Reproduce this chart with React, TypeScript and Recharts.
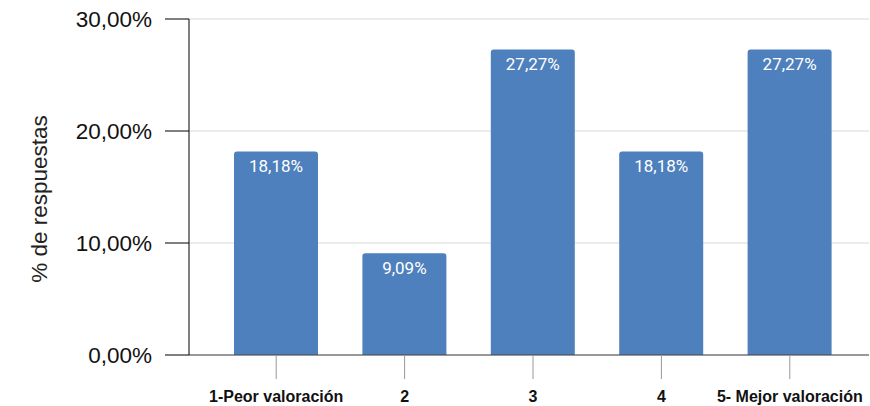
import React from 'react';
import { BarChart, Bar, XAxis, YAxis, CartesianGrid, LabelList } from 'recharts';

const categories = ['1-Peor valoración', '2', '3', '4', '5- Mejor valoración'];
const values = [18.18, 9.09, 27.27, 18.18, 27.27];
const yTicks = [0, 10, 20, 30];

const data = categories.map((c, i) => ({ name: c, value: values[i] }));

const fmt = (v: number) => v.toFixed(2).replace('.', ',') + '%';

const BarLabel = (props: any) => {
  const { x, y, width, value } = props;
  return (
    <text
      x={x + width / 2}
      y={y + 20.5}
      textAnchor="middle"
      fill="#ffffff"
      fontFamily="Roboto"
      fontSize={17}
    >
      {fmt(value)}
    </text>
  );
};

const YLabel = () => (
  <text
    x={47}
    y={199}
    transform="rotate(-90 47 199)"
    textAnchor="middle"
    fontFamily="Liberation Sans"
    fontSize={22.5}
    fill="#222"
  >
    % de respuestas
  </text>
);

export default function App() {
  return (
    <div style={{ position: 'absolute', left: 0, top: 0, width: 870, height: 406, background: '#fff' }}>
      <BarChart
        width={870}
        height={406}
        data={data}
        margin={{ top: 19, right: 1, bottom: 0, left: 0 }}
      >
        <CartesianGrid vertical={false} stroke="#d9d9d9" />
        <XAxis
          dataKey="name"
          height={51}
          padding={{ left: 23, right: 15 }}
          axisLine={{ stroke: '#444' }}
          tickLine={{ stroke: '#999' }}
          tickSize={24}
          tickMargin={12}
          interval={0}
          tick={{ fontFamily: 'Liberation Sans', fontSize: 16, fontWeight: 'bold', fill: '#111' }}
        />
        <YAxis
          width={189}
          domain={[0, 30]}
          ticks={yTicks}
          tickFormatter={fmt}
          axisLine={{ stroke: '#000' }}
          tickLine={{ stroke: '#000' }}
          tickSize={24}
          tickMargin={13}
          tick={{ fontFamily: 'Liberation Sans', fontSize: 22.5, fill: '#111' }}
          label={{ content: () => <YLabel /> }}
        />
        <Bar dataKey="value" fill="#4e80bd" barSize={84} radius={[3, 3, 0, 0]} isAnimationActive={false}>
          <LabelList dataKey="value" content={<BarLabel />} />
        </Bar>
      </BarChart>
    </div>
  );
}
